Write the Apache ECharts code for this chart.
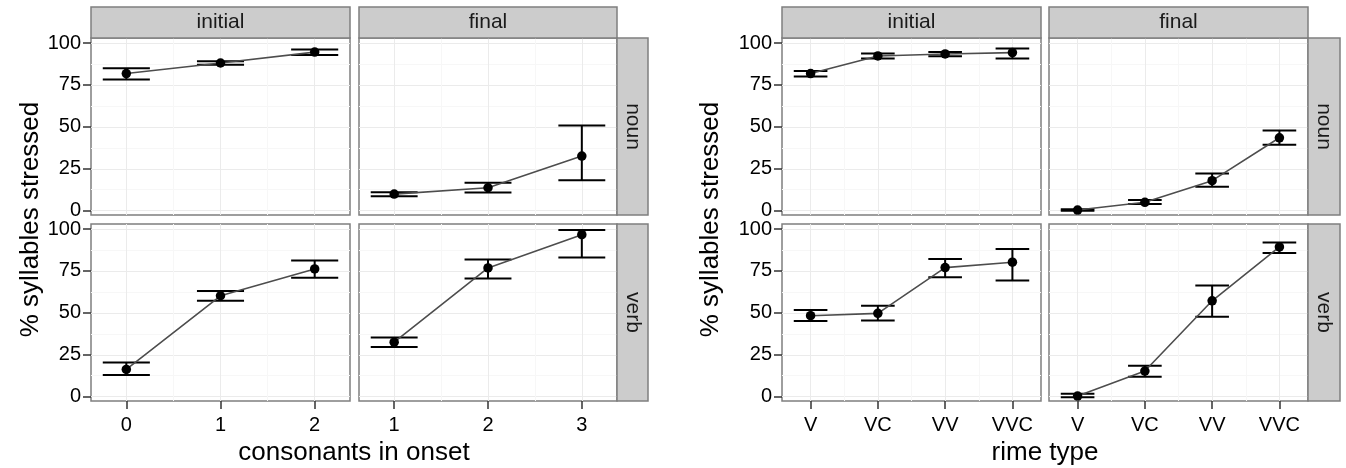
<!DOCTYPE html>
<html>
<head>
<meta charset="utf-8">
<script src="https://cdn.jsdelivr.net/npm/echarts@6/dist/echarts.min.js"></script>
<style>
html,body{margin:0;padding:0;background:#fff;}
#chart{width:1346px;height:468px;}
</style>
</head>
<body>
<div id="chart"></div>
<script>
// ---------------- DATA ----------------
const rowLabels = ['noun', 'verb'];
const colLabels = ['initial', 'final'];
const yTickValues = [0, 25, 50, 75, 100];
const yTitle = '% syllables stressed';
const leftXTitle = 'consonants in onset';
const rightXTitle = 'rime type';

// left chart: consonants in onset
const onsetInitialX = [0, 1, 2];
const onsetFinalX = [1, 2, 3];
const onsetInitialNounMean = [81.8, 88.1, 94.6];
const onsetInitialNounLow  = [78.2, 87.1, 92.9];
const onsetInitialNounHigh = [84.9, 89.1, 96.2];
const onsetFinalNounMean = [9.9, 13.7, 32.6];
const onsetFinalNounLow  = [8.6, 10.9, 18.1];
const onsetFinalNounHigh = [11.0, 16.7, 50.8];
const onsetInitialVerbMean = [16.3, 60.2, 76.2];
const onsetInitialVerbLow  = [12.9, 57.2, 70.9];
const onsetInitialVerbHigh = [20.4, 63.0, 81.2];
const onsetFinalVerbMean = [32.5, 76.8, 96.6];
const onsetFinalVerbLow  = [29.7, 70.5, 83.0];
const onsetFinalVerbHigh = [35.3, 81.8, 99.4];

// right chart: rime type
const rimeTypes = ['V', 'VC', 'VV', 'VVC'];
const rimeX = [1, 2, 3, 4];
const rimeInitialNounMean = [81.8, 92.3, 93.5, 94.3];
const rimeInitialNounLow  = [80.0, 90.7, 92.1, 90.7];
const rimeInitialNounHigh = [83.3, 93.7, 94.6, 96.7];
const rimeFinalNounMean = [0.4, 5.0, 17.9, 43.5];
const rimeFinalNounLow  = [0.0, 4.0, 14.3, 39.3];
const rimeFinalNounHigh = [0.9, 6.4, 22.2, 47.8];
const rimeInitialVerbMean = [48.3, 49.7, 77.0, 80.2];
const rimeInitialVerbLow  = [45.1, 45.4, 71.3, 69.3];
const rimeInitialVerbHigh = [51.7, 54.3, 82.2, 88.1];
const rimeFinalVerbMean = [0.4, 15.3, 57.2, 89.3];
const rimeFinalVerbLow  = [-0.3, 11.9, 47.7, 85.7];
const rimeFinalVerbHigh = [1.7, 18.4, 66.3, 92.0];

// ---------------- LAYOUT / STYLE ----------------
const FONT = 'Liberation Sans, Arial, Helvetica, sans-serif';
const Y_MIN = -2.56, Y_MAX = 103.0;
const ROWS = [{top: 38, h: 177}, {top: 224, h: 177}];
const STRIP_TOP = 7, STRIP_H = 31;
const charts = [
  {
    cols: [{left: 91, w: 259}, {left: 359, w: 258}],
    stripX: 617, stripW: 31,
    yTitleX: 31, xTitle: leftXTitle, xTitleY: 453,
    xRanges: [[-0.375, 2.375], [0.625, 3.375]],
    xTicks: [onsetInitialX, onsetFinalX],
    xLabel: v => String(v),
    panels: [
      [[onsetInitialX, onsetInitialNounMean, onsetInitialNounLow, onsetInitialNounHigh],
       [onsetFinalX, onsetFinalNounMean, onsetFinalNounLow, onsetFinalNounHigh]],
      [[onsetInitialX, onsetInitialVerbMean, onsetInitialVerbLow, onsetInitialVerbHigh],
       [onsetFinalX, onsetFinalVerbMean, onsetFinalVerbLow, onsetFinalVerbHigh]]
    ]
  },
  {
    cols: [{left: 782, w: 259}, {left: 1049, w: 259}],
    stripX: 1308, stripW: 32,
    yTitleX: 711, xTitle: rightXTitle, xTitleY: 453,
    xRanges: [[0.575, 4.425], [0.575, 4.425]],
    xTicks: [rimeX, rimeX],
    xLabel: v => rimeTypes[rimeX.indexOf(Math.round(v))] || '',
    panels: [
      [[rimeX, rimeInitialNounMean, rimeInitialNounLow, rimeInitialNounHigh],
       [rimeX, rimeFinalNounMean, rimeFinalNounLow, rimeFinalNounHigh]],
      [[rimeX, rimeInitialVerbMean, rimeInitialVerbLow, rimeInitialVerbHigh],
       [rimeX, rimeFinalVerbMean, rimeFinalVerbLow, rimeFinalVerbHigh]]
    ]
  }
];

function withMinor(vals) {
  // major values plus midpoints between them (major, minor, major, ...)
  const out = [];
  for (let i = 0; i < vals.length; i++) {
    out.push(vals[i]);
    if (i < vals.length - 1) out.push((vals[i] + vals[i + 1]) / 2);
  }
  return out;
}

const grids = [], xAxes = [], yAxes = [], series = [], graphics = [];
const GRID_COLORS = ['#EBEBEB', '#F7F7F7'];
const TICK_STYLE = {color: '#333333', width: 1.5};

charts.forEach(ch => {
  for (let r = 0; r < 2; r++) {
    for (let c = 0; c < 2; c++) {
      const gi = grids.length;
      const col = ch.cols[c], row = ROWS[r];
      grids.push({
        left: col.left, top: row.top, width: col.w, height: row.h,
        show: true, backgroundColor: '#FFFFFF', borderColor: '#7F7F7F', borderWidth: 1.5,
        containLabel: false, outerBoundsMode: 'none'
      });
      const [xmin, xmax] = ch.xRanges[c];
      const xt = ch.xTicks[c];
      const isBottom = r === 1, isLeft = c === 0;
      // main x axis (grid lines)
      const xMain = xAxes.length;
      xAxes.push({
        gridIndex: gi, type: 'value', min: xmin, max: xmax, position: 'bottom',
        axisLine: {show: false, onZero: false},
        axisTick: {show: false, customValues: withMinor(xt)},
        axisLabel: {show: false},
        splitLine: {show: true, lineStyle: {color: GRID_COLORS, width: 1}},
        minorSplitLine: {show: false}
      });
      // tick/label x axis
      xAxes.push({
        gridIndex: gi, type: 'value', min: xmin, max: xmax, position: 'bottom',
        show: isBottom,
        axisLine: {show: false, onZero: false},
        axisTick: {show: true, customValues: xt, length: 8, lineStyle: TICK_STYLE},
        axisLabel: {show: true, customValues: xt, margin: 14, fontSize: 20, fontFamily: FONT,
          color: '#000000', formatter: ch.xLabel},
        splitLine: {show: false}
      });
      const yMain = yAxes.length;
      yAxes.push({
        gridIndex: gi, type: 'value', min: Y_MIN, max: Y_MAX, position: 'left',
        axisLine: {show: false, onZero: false},
        axisTick: {show: false, customValues: withMinor(yTickValues)},
        axisLabel: {show: false},
        splitLine: {show: true, lineStyle: {color: GRID_COLORS, width: 1}},
        minorSplitLine: {show: false}
      });
      yAxes.push({
        gridIndex: gi, type: 'value', min: Y_MIN, max: Y_MAX, position: 'left',
        show: isLeft,
        axisLine: {show: false, onZero: false},
        axisTick: {show: true, customValues: yTickValues, length: 8, lineStyle: TICK_STYLE},
        axisLabel: {show: true, customValues: yTickValues, margin: 10, fontSize: 20, fontFamily: FONT,
          color: '#000000'},
        splitLine: {show: false}
      });

      const [xs, mean, lo, hi] = ch.panels[r][c];
      series.push({
        type: 'custom', xAxisIndex: xMain, yAxisIndex: yMain, z: 2,
        silent: true, animation: false,
        data: xs.map((x, i) => [x, lo[i], hi[i]]),
        renderItem: function (params, api) {
          const x = api.value(0), l = api.value(1), h = api.value(2);
          const w = 0.25;
          const a = api.coord([x - w, h]), b = api.coord([x + w, h]);
          const d = api.coord([x - w, l]), e = api.coord([x + w, l]);
          const t = api.coord([x, h]), u = api.coord([x, l]);
          const st = {stroke: '#000000', lineWidth: 2};
          return {type: 'group', children: [
            {type: 'line', shape: {x1: a[0], y1: a[1], x2: b[0], y2: b[1]}, style: st},
            {type: 'line', shape: {x1: d[0], y1: d[1], x2: e[0], y2: e[1]}, style: st},
            {type: 'line', shape: {x1: t[0], y1: t[1], x2: u[0], y2: u[1]}, style: st}
          ]};
        }
      });
      series.push({
        type: 'line', xAxisIndex: xMain, yAxisIndex: yMain, z: 3,
        silent: true, animation: false,
        data: xs.map((x, i) => [x, mean[i]]),
        lineStyle: {color: '#4D4D4D', width: 1.6},
        symbol: 'circle', symbolSize: 9.5, showSymbol: true,
        itemStyle: {color: '#000000', borderWidth: 0}
      });
    }
  }
  // top strips
  ch.cols.forEach((col, c) => {
    graphics.push({type: 'rect', shape: {x: col.left, y: STRIP_TOP, width: col.w, height: STRIP_H},
      style: {fill: '#CCCCCC', stroke: '#7F7F7F', lineWidth: 1.5}, z: 10});
    graphics.push({type: 'text', x: col.left + col.w / 2, y: STRIP_TOP + STRIP_H / 2, z: 11,
      style: {text: colLabels[c], font: '21px ' + FONT, fill: '#1A1A1A', align: 'center', verticalAlign: 'middle'}});
  });
  // right strips
  ROWS.forEach((row, r) => {
    graphics.push({type: 'rect', shape: {x: ch.stripX, y: row.top, width: ch.stripW, height: row.h},
      style: {fill: '#CCCCCC', stroke: '#7F7F7F', lineWidth: 1.5}, z: 10});
    graphics.push({type: 'text', x: ch.stripX + ch.stripW / 2, y: row.top + row.h / 2, rotation: -Math.PI / 2, z: 11,
      style: {text: rowLabels[r], font: '21px ' + FONT, fill: '#1A1A1A', align: 'center', verticalAlign: 'middle'}});
  });
  // axis titles
  const panelsLeft = ch.cols[0].left, panelsRight = ch.cols[1].left + ch.cols[1].w;
  graphics.push({type: 'text', x: (panelsLeft + panelsRight) / 2, y: ch.xTitleY, z: 11,
    style: {text: ch.xTitle, font: '26px ' + FONT, fill: '#000000', align: 'center', verticalAlign: 'middle'}});
  graphics.push({type: 'text', x: ch.yTitleX, y: (ROWS[0].top + ROWS[1].top + ROWS[1].h) / 2, rotation: Math.PI / 2, z: 11,
    style: {text: yTitle, font: '26px ' + FONT, fill: '#000000', align: 'center', verticalAlign: 'middle'}});
});

const chart = echarts.init(document.getElementById('chart'), null, {renderer: 'canvas'});
chart.setOption({
  animation: false,
  backgroundColor: '#FFFFFF',
  grid: grids,
  xAxis: xAxes,
  yAxis: yAxes,
  series: series,
  graphic: {elements: graphics}
});
</script>
</body>
</html>
